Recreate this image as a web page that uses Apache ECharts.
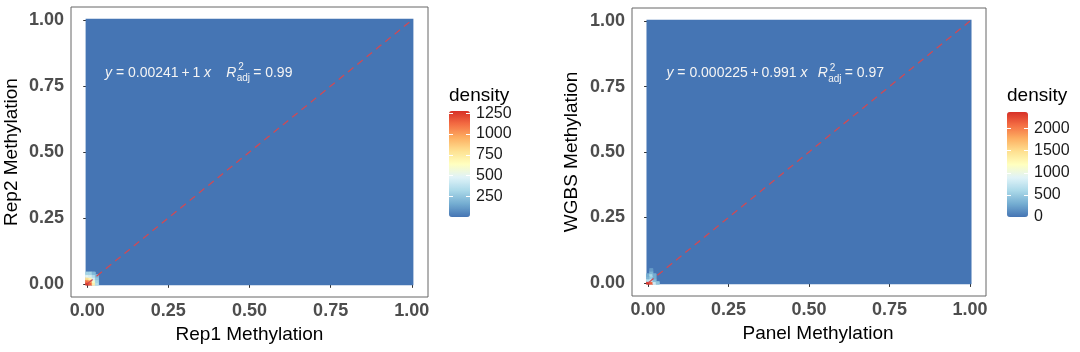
<!DOCTYPE html>
<html>
<head>
<meta charset="utf-8">
<script src="https://cdn.jsdelivr.net/npm/echarts@6/dist/echarts.min.js"></script>
<style>
  html, body { margin: 0; padding: 0; background: #fff; }
  #main { width: 1080px; height: 352px; }
</style>
</head>
<body>
<div id="main"></div>
<script>
// axis breaks shared by both panels
var axisTicks = [0, 0.25, 0.5, 0.75, 1];

// 2d density raster: background level + the hot cells near the origin [x, y, density]
var rasterExtent = [-0.005, 1.005];
var cellStep = 0.01;
var leftBackground = 0;
var rightBackground = 0;
var leftCells = [
  [0, 0, 1250], [0.01, 0, 1150], [0.02, 0, 700], [0.03, 0, 350],
  [0, 0.01, 1100], [0.01, 0.01, 1000], [0.02, 0.01, 600], [0.03, 0.01, 300],
  [0, 0.02, 800], [0.01, 0.02, 700], [0.02, 0.02, 450], [0.03, 0.02, 250],
  [0, 0.03, 500], [0.01, 0.03, 450], [0.02, 0.03, 350], [0.03, 0.03, 200],
  [0, 0.04, 300], [0.01, 0.04, 300], [0.02, 0.04, 200]
];
var rightCells = [
  [0, 0, 2350], [0.01, 0, 2150], [0.02, 0, 800], [0.03, 0, 450],
  [0, 0.01, 650], [0.01, 0.01, 800], [0.02, 0.01, 400],
  [0, 0.02, 350], [0.01, 0.02, 500], [0.02, 0.02, 300],
  [0, 0.03, 300], [0.01, 0.03, 600], [0.02, 0.03, 300],
  [0.01, 0.04, 350], [0.01, 0.05, 200]
];

// colour bar ranges and breaks
var leftDensityMax = 1278;
var rightDensityMax = 2376;
var leftDensityBreaks = [250, 500, 750, 1000, 1250];
var rightDensityBreaks = [0, 500, 1000, 1500, 2000];

// fitted line (y = x reference) and regression labels
var fitLine = [[0, 0], [1, 1]];
var leftFit = ['0.00241', '1', '0.99'];
var rightFit = ['0.000225', '0.991', '0.97'];

var axisNames = ['Rep1 Methylation', 'Rep2 Methylation', 'Panel Methylation', 'WGBS Methylation'];

var palette = ['#4575b4', '#74add1', '#abd9e9', '#e0f3f8', '#ffffbf', '#fee090', '#fdae61', '#f46d43', '#d73027'];
var FONT = 'Liberation Sans, Arial, sans-serif';

function toRects(bg, cells) {
  var out = [[rasterExtent[0], rasterExtent[1], rasterExtent[0], rasterExtent[1], bg]];
  cells.forEach(function (c) {
    var h = cellStep / 2;
    out.push([c[0] - h, c[0] + h, c[1] - h, c[1] + h, c[2]]);
  });
  return out;
}

function renderCell(params, api) {
  var a = api.coord([api.value(0), api.value(3)]);
  var b = api.coord([api.value(1), api.value(2)]);
  var col = api.visual('color');
  var big = params.dataIndex === 0;
  return {
    type: 'rect',
    shape: { x: a[0], y: a[1], width: b[0] - a[0], height: b[1] - a[1] },
    style: { fill: col, stroke: big ? null : col, lineWidth: big ? 0 : 0.8 }
  };
}

function mainX(grid, name, shift) {
  return {
    gridIndex: grid, type: 'value', min: -0.05, max: 1.05,
    axisLine: { show: false },
    axisTick: { show: true, length: 4, customValues: axisTicks, lineStyle: { color: '#333' } },
    axisLabel: {
      customValues: axisTicks, margin: 5, fontFamily: FONT, fontSize: 18, fontWeight: 'bold', color: '#4d4d4d',
      formatter: function (v) { return v.toFixed(2); }
    },
    splitLine: { show: false },
    name: name, nameLocation: 'middle', nameGap: 27,
    nameTextStyle: { fontFamily: FONT, fontSize: 19, color: '#000', padding: [0, 0, 0, shift] }
  };
}

function mainY(grid, name, gap) {
  return {
    gridIndex: grid, type: 'value', min: -0.05, max: 1.05,
    axisLine: { show: false },
    axisTick: { show: true, length: 4, customValues: axisTicks, lineStyle: { color: '#333' } },
    axisLabel: {
      customValues: axisTicks, margin: 7, fontFamily: FONT, fontSize: 18, fontWeight: 'bold', color: '#4d4d4d',
      formatter: function (v) { return v.toFixed(2); }
    },
    splitLine: { show: false },
    name: name, nameLocation: 'middle', nameGap: gap,
    nameTextStyle: { fontFamily: FONT, fontSize: 19, color: '#000' }
  };
}

function barY(grid, max, breaks, side, labels) {
  return {
    gridIndex: grid, type: 'value', min: 0, max: max, position: side, z: 10,
    axisLine: { show: false },
    axisTick: { show: true, inside: true, length: 4, customValues: breaks, lineStyle: { color: '#fff', width: 1 } },
    axisLabel: { show: labels, customValues: breaks, margin: 6, fontFamily: FONT, fontSize: 16, color: '#1a1a1a',
      formatter: function (v) { return String(v); } },
    splitLine: { show: false }
  };
}

function colourBar(series, max, left, top, height) {
  return {
    type: 'continuous', seriesIndex: series, dimension: 4, min: 0, max: max,
    inRange: { color: palette }, calculable: false, hoverLink: false,
    left: left, top: top, itemWidth: 21, itemHeight: height, padding: 0
  };
}

var chart = echarts.init(document.getElementById('main'), null, { renderer: 'canvas' });

var border = { show: true, borderColor: '#666', borderWidth: 1, backgroundColor: '#fff' };
var dash = { color: '#cf4a55', width: 1.3, type: [7, 5] };

chart.setOption({
  animation: false,
  grid: [
    Object.assign({ left: 71, top: 7, width: 357, height: 290 }, border),
    Object.assign({ left: 632, top: 8, width: 354, height: 288 }, border),
    { left: 449, top: 111, width: 21, height: 106 },
    { left: 1007, top: 112, width: 21, height: 105 }
  ],
  xAxis: [
    mainX(0, axisNames[0], 0),
    mainX(1, axisNames[2], 18),
    { gridIndex: 2, type: 'value', show: false },
    { gridIndex: 3, type: 'value', show: false }
  ],
  yAxis: [
    mainY(0, axisNames[1], 50),
    mainY(1, axisNames[3], 51),
    barY(2, leftDensityMax, leftDensityBreaks, 'left', false),
    barY(2, leftDensityMax, leftDensityBreaks, 'right', true),
    barY(3, rightDensityMax, rightDensityBreaks, 'left', false),
    barY(3, rightDensityMax, rightDensityBreaks, 'right', true)
  ],
  visualMap: [
    colourBar(0, leftDensityMax, 449, 111, 106),
    colourBar(1, rightDensityMax, 1007, 112, 105)
  ],
  series: [
    { type: 'custom', xAxisIndex: 0, yAxisIndex: 0, renderItem: renderCell, silent: true, z: 2,
      encode: { x: [0, 1], y: [2, 3] }, data: toRects(leftBackground, leftCells) },
    { type: 'custom', xAxisIndex: 1, yAxisIndex: 1, renderItem: renderCell, silent: true, z: 2,
      encode: { x: [0, 1], y: [2, 3] }, data: toRects(rightBackground, rightCells) },
    { type: 'line', xAxisIndex: 0, yAxisIndex: 0, data: fitLine, symbol: 'none', silent: true, z: 3, lineStyle: dash },
    { type: 'line', xAxisIndex: 1, yAxisIndex: 1, data: fitLine, symbol: 'none', silent: true, z: 3, lineStyle: dash }
  ]
});

// regression labels, placed in data coordinates of each panel
function fitLabel(grid, fit, eqX, rX, y) {
  var p = chart.convertToPixel({ gridIndex: grid }, [eqX, y]);
  var r = chart.convertToPixel({ gridIndex: grid }, [rX, y]);
  var txt = '#f4f4f4';
  var thin = '\u2009';
  return [
    { type: 'text', x: p[0], y: p[1], z: 20, silent: true,
      style: { text: '{i|y} = ' + fit[0] + thin + '+' + thin + fit[1] + ' {i|x}', fill: txt, fontFamily: FONT, fontSize: 14,
        verticalAlign: 'middle', rich: { i: { fontStyle: 'italic', fontFamily: FONT, fontSize: 14, fill: txt } } } },
    { type: 'text', x: r[0], y: r[1], z: 20, silent: true,
      style: { text: 'R', fill: txt, fontFamily: FONT, fontSize: 14, fontStyle: 'italic', verticalAlign: 'middle' } },
    { type: 'text', x: r[0] + 12, y: r[1] - 5.5, z: 20, silent: true,
      style: { text: '2', fill: txt, fontFamily: FONT, fontSize: 10, verticalAlign: 'middle' } },
    { type: 'text', x: r[0] + 10.5, y: r[1] + 5.5, z: 20, silent: true,
      style: { text: 'adj', fill: txt, fontFamily: FONT, fontSize: 10, verticalAlign: 'middle' } },
    { type: 'text', x: r[0] + 27, y: r[1], z: 20, silent: true,
      style: { text: '= ' + fit[2], fill: txt, fontFamily: FONT, fontSize: 14, verticalAlign: 'middle' } }
  ];
}

var legendTitle = function (x) {
  return { type: 'text', x: x, y: 96, silent: true,
    style: { text: 'density', fill: '#000', fontFamily: FONT, fontSize: 19, verticalAlign: 'middle' } };
};

chart.setOption({
  graphic: fitLabel(0, leftFit, 0.055, 0.428, 0.8)
    .concat(fitLabel(1, rightFit, 0.057, 0.527, 0.8))
    .concat([legendTitle(449), legendTitle(1007)])
});
</script>
</body>
</html>
